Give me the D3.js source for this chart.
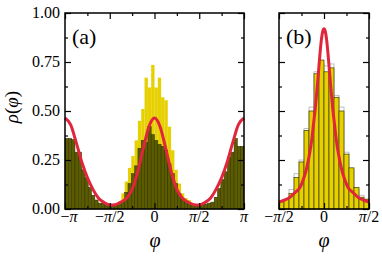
<!DOCTYPE html>
<meta charset="utf-8">
<head>
<style>
body { margin: 0; background: #fff; }
svg { font-family: 'Liberation Serif', 'DejaVu Serif', serif; }
.frame { fill: none; stroke: #000; stroke-width: 1.5px; }
.tick line { stroke: #000; stroke-width: 1.2px; }
</style>
</head>
<body>
<div id="chart"></div>
<script src="https://d3js.org/d3.v7.min.js"></script>
<script>

// panel (a): 54 bins from -pi to pi
var yellowA = [0, 0, 0, 0, 0, 0, 0, 0, 0, 0, 0, 0, 0, 0.01,
  0.025, 0.03, 0.04, 0.08, 0.14, 0.21, 0.27, 0.35, 0.45, 0.51, 0.67, 0.62, 0.735,
  0.62, 0.67, 0.57, 0.555, 0.42, 0.30, 0.20, 0.13, 0.08, 0.056, 0.045, 0.03, 0.02, 0.01,
  0, 0, 0, 0, 0, 0, 0, 0, 0, 0, 0, 0, 0];
var darkA = [0.36, 0.36, 0.355, 0.29, 0.29, 0.20, 0.16, 0.11, 0.07, 0.046, 0.03, 0.03, 0.02,
  0.02, 0.02, 0.02, 0.025, 0.035, 0.085, 0.13, 0.18, 0.22, 0.31, 0.35, 0.34, 0.42, 0.38,
  0.35, 0.33, 0.32, 0.30, 0.23, 0.18, 0.13, 0.08, 0.055, 0.04, 0.03, 0.02, 0.02, 0.02,
  0.02, 0.025, 0.03, 0.035, 0.06, 0.105, 0.15, 0.19, 0.265, 0.29, 0.36, 0.32, 0.32];

// fitted curve (a), phi in units of pi
var curveAphi = [-1, -0.9375, -0.875, -0.8125, -0.75, -0.6875, -0.625, -0.5625, -0.5,
  -0.4375, -0.375, -0.3125, -0.25, -0.1875, -0.125, -0.0625, 0,
  0.0625, 0.125, 0.1875, 0.25, 0.3125, 0.375, 0.4375, 0.5,
  0.5625, 0.625, 0.6875, 0.75, 0.8125, 0.875, 0.9375, 1];
var curveArho = [0.464, 0.43, 0.34, 0.24, 0.16, 0.10, 0.055, 0.033, 0.02,
  0.022, 0.035, 0.055, 0.10, 0.19, 0.31, 0.42, 0.464,
  0.42, 0.31, 0.19, 0.10, 0.055, 0.035, 0.022, 0.02,
  0.033, 0.055, 0.10, 0.16, 0.24, 0.34, 0.43, 0.464];

// panel (b): 18 bins from -pi/2 to pi/2
var yellowB = [0.04, 0.05, 0.08, 0.16, 0.24, 0.40, 0.50, 0.69, 0.76,
  0.70, 0.72, 0.57, 0.50, 0.28, 0.21, 0.11, 0.06, 0.05];
var grayB = [0.04, 0.05, 0.10, 0.18, 0.25, 0.41, 0.52, 0.70, 0.74,
  0.73, 0.74, 0.58, 0.52, 0.29, 0.20, 0.10, 0.07, 0.05];

var curveBphi = [-0.5, -0.44, -0.378, -0.32, -0.267, -0.23, -0.192, -0.165, -0.137,
  -0.115, -0.1, -0.08, -0.063, -0.045, -0.03, -0.015, 0,
  0.015, 0.03, 0.045, 0.063, 0.08, 0.1, 0.115, 0.137, 0.165, 0.192, 0.23, 0.267,
  0.32, 0.378, 0.44, 0.5];
var curveBrho = [0.035, 0.045, 0.06, 0.085, 0.11, 0.15, 0.21, 0.27, 0.35,
  0.44, 0.50, 0.60, 0.69, 0.79, 0.86, 0.905, 0.92,
  0.905, 0.86, 0.79, 0.69, 0.60, 0.50, 0.44, 0.35, 0.27, 0.21, 0.15, 0.11,
  0.085, 0.06, 0.045, 0.035];

var yTicks = [0, 0.25, 0.5, 0.75, 1];
var yLabels = ["0.00", "0.25", "0.50", "0.75", "1.00"];
var xTicksA = [-1, -0.5, 0, 0.5, 1];
var xLabelsA = [["\u2212", "\u03c0", ""], ["\u2212", "\u03c0", "/2"], ["0", "", ""], ["", "\u03c0", "/2"], ["", "\u03c0", ""]];
var xTicksB = [-0.5, 0, 0.5];
var xLabelsB = [["\u2212", "\u03c0", "/2"], ["0", "", ""], ["", "\u03c0", "/2"]];

var PI = Math.PI;
var yellow = "#e6d000", dark = "#5b5b00", red = "#e0263c";

var svg = d3.select("#chart").append("svg")
    .attr("width", 382)
    .attr("height", 259);

var y = d3.scaleLinear().domain([0, 1]).range([209, 13]);
var xA = d3.scaleLinear().domain([-PI, PI]).range([65, 244]);
var xB = d3.scaleLinear().domain([-PI / 2, PI / 2]).range([279, 369]);

function bars(g, x, vals, lo, hi, fill, stroke, sw) {
  var w = (hi - lo) / vals.length;
  g.append("g").selectAll("rect")
      .data(vals)
    .enter().append("rect")
      .attr("x", function(d, i) { return x(lo + i * w); })
      .attr("width", function(d, i) { return x(lo + (i + 1) * w) - x(lo + i * w); })
      .attr("y", function(d) { return y(d); })
      .attr("height", function(d) { return y(0) - y(d); })
      .attr("fill", fill)
      .attr("stroke", stroke)
      .attr("stroke-width", sw);
}

function curve(g, x, phi, rho) {
  var line = d3.line()
      .x(function(d) { return x(d[0] * PI); })
      .y(function(d) { return y(d[1]); })
      .curve(d3.curveMonotoneX);
  g.append("path")
      .datum(phi.map(function(p, i) { return [p, rho[i]]; }))
      .attr("d", line)
      .attr("fill", "none")
      .attr("stroke", red)
      .attr("stroke-width", 3);
}

function frame(g, x, majors, minors) {
  var x0 = x.range()[0], x1 = x.range()[1];
  var yMaj = yTicks, yMin = [0.125, 0.375, 0.625, 0.875];
  g.append("g").attr("class", "tick").attr("transform", "translate(" + x0 + ",0)")
      .call(d3.axisRight(y).tickValues(yMaj).tickSize(6).tickFormat(""));
  g.append("g").attr("class", "tick").attr("transform", "translate(" + x0 + ",0)")
      .call(d3.axisRight(y).tickValues(yMin).tickSize(3).tickFormat(""));
  g.append("g").attr("class", "tick").attr("transform", "translate(" + x1 + ",0)")
      .call(d3.axisLeft(y).tickValues(yMaj).tickSize(6).tickFormat(""));
  g.append("g").attr("class", "tick").attr("transform", "translate(" + x1 + ",0)")
      .call(d3.axisLeft(y).tickValues(yMin).tickSize(3).tickFormat(""));
  var maj = majors.map(function(t) { return t * PI; });
  var mn = minors.map(function(t) { return t * PI; });
  g.append("g").attr("class", "tick").attr("transform", "translate(0," + y(0) + ")")
      .call(d3.axisTop(x).tickValues(maj).tickSize(6).tickFormat(""));
  g.append("g").attr("class", "tick").attr("transform", "translate(0," + y(0) + ")")
      .call(d3.axisTop(x).tickValues(mn).tickSize(3).tickFormat(""));
  g.append("g").attr("class", "tick").attr("transform", "translate(0," + y(1) + ")")
      .call(d3.axisBottom(x).tickValues(maj).tickSize(6).tickFormat(""));
  g.append("g").attr("class", "tick").attr("transform", "translate(0," + y(1) + ")")
      .call(d3.axisBottom(x).tickValues(mn).tickSize(3).tickFormat(""));
  g.selectAll(".domain").remove();
  g.append("rect").attr("class", "frame")
      .attr("x", x0).attr("y", y(1))
      .attr("width", x1 - x0).attr("height", y(0) - y(1));
}

function xLabels(g, x, ticks, labels) {
  var t = g.append("g").selectAll("text")
      .data(ticks)
    .enter().append("text")
      .attr("x", function(d) { return x(d * PI); })
      .attr("dx", function(d) { return d === -1 ? 4 : 0; })
      .attr("y", 222)
      .attr("text-anchor", "middle")
      .attr("font-size", 16);
  t.append("tspan").text(function(d, i) { return labels[i][0]; });
  t.append("tspan").attr("font-style", "italic").text(function(d, i) { return labels[i][1]; });
  t.append("tspan").text(function(d, i) { return labels[i][2]; });
}

// panel (a)
var ga = svg.append("g");
bars(ga, xA, yellowA, -PI, PI, yellow, "none", 0);
bars(ga, xA, darkA, -PI, PI, dark, "#2e2e00", 0.5);
curve(ga, xA, curveAphi, curveArho);
frame(ga, xA, [-1, -0.5, 0, 0.5, 1], [-0.75, -0.25, 0.25, 0.75]);
xLabels(ga, xA, xTicksA, xLabelsA);

ga.append("g").selectAll("text")
    .data(yTicks)
  .enter().append("text")
    .attr("x", 60)
    .attr("y", function(d) { return y(d) + 5; })
    .attr("text-anchor", "end")
    .attr("font-size", 16)
    .text(function(d, i) { return yLabels[i]; });

ga.append("text").attr("x", 72).attr("y", 44).attr("font-size", 22).text("(a)");
ga.append("text").attr("x", 155).attr("y", 247).attr("text-anchor", "middle")
    .attr("font-size", 20).attr("font-style", "italic").text("\u03c6");

var yl = ga.append("text")
    .attr("transform", "translate(18,107) rotate(-90)")
    .attr("text-anchor", "middle")
    .attr("font-size", 19);
yl.append("tspan").attr("font-style", "italic").text("\u03c1");
yl.append("tspan").text("(");
yl.append("tspan").attr("font-style", "italic").text("\u03c6");
yl.append("tspan").text(")");

// panel (b)
var gb = svg.append("g");
bars(gb, xB, grayB, -PI / 2, PI / 2, "#fff", "#b0b0b0", 0.8);
bars(gb, xB, yellowB, -PI / 2, PI / 2, yellow, "#3a3a00", 0.7);
curve(gb, xB, curveBphi, curveBrho);
frame(gb, xB, [-0.5, 0, 0.5], [-0.25, 0.25]);
xLabels(gb, xB, xTicksB, xLabelsB);

gb.append("text").attr("x", 286).attr("y", 44).attr("font-size", 22).text("(b)");
gb.append("text").attr("x", 324).attr("y", 247).attr("text-anchor", "middle")
    .attr("font-size", 20).attr("font-style", "italic").text("\u03c6");

</script>
</body>
